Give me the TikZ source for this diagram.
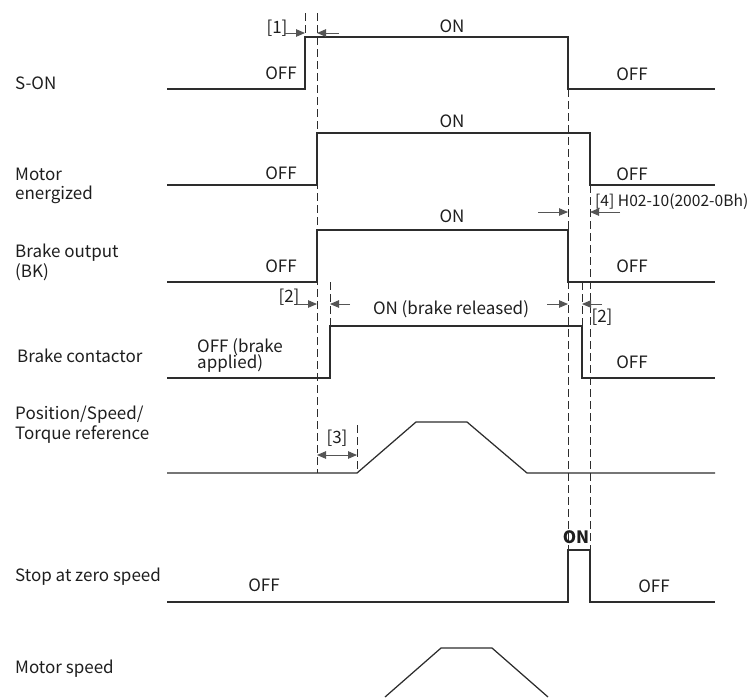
\documentclass[tikz,border=0pt]{standalone}
\usepackage{fontspec}
\setmainfont{Noto Sans CJK SC}
\definecolor{tdline}{RGB}{45,45,45}
\definecolor{tdtext}{RGB}{30,30,30}
\definecolor{tdgray}{RGB}{85,85,85}
\usetikzlibrary{arrows.meta,positioning}

\begin{document}
\begin{tikzpicture}[x=1pt,y=-1pt,
  wave/.style={line width=1.25pt, tdline},
  guide/.style={line width=1pt, tdline, dash pattern=on 8pt off 4pt},
  dimarrow/.style={line width=0.9pt, tdgray, -{Triangle[length=9pt,width=7.5pt]}},
  lbl/.style={font=\fontsize{17}{20}\selectfont, text=tdtext, inner sep=0pt},
  siglbl/.style={lbl, anchor=base west, align=left},
  statelbl/.style={lbl, anchor=base}]
  \useasboundingbox (0,0) rectangle (749,697);

  % signal names
  \node[siglbl] (nSon)   at (15,89)  {S-ON};
  \node[siglbl] (nMotor) at (15,199) {Motor\\[-1pt]energized};
  \node[siglbl] (nBk)    at (15,277) {Brake output\\(BK)};
  \node[siglbl] (nCont)  at (17,362) {Brake contactor};
  \node[siglbl] (nRef)   at (15,439) {Position/Speed/\\Torque reference};
  \node[siglbl] (nZero)  at (15,581) {Stop at zero speed};
  \node[siglbl] (nSpeed) at (15,673) {Motor speed};

  % waveforms
  \draw[wave] (167,89) -- (305,89) -- (305,37) -- (568,37) -- (568,89) -- (715,89);
  \draw[wave] (167,185) -- (317,185) -- (317,133) -- (590,133) -- (590,185) -- (715,185);
  \draw[wave] (167,282) -- (317,282) -- (317,230) -- (568,230) -- (568,282) -- (715,282);
  \draw[wave] (167,378) -- (330,378) -- (330,326) -- (582,326) -- (582,378) -- (715,378);
  \draw[wave] (167,473) -- (357,473) -- (416,422) -- (467,422) -- (527,473) -- (715,473);
  \draw[wave] (167,602) -- (568,602) -- (568,550) -- (590,550) -- (590,602) -- (715,602);
  \draw[wave] (385,697) -- (441,648) -- (492,648) -- (548,697);

  % timing guides
  \draw[guide] (305,13) -- (305,37);
  \draw[guide] (317,13) -- (317,473);
  \draw[guide] (330,282) -- (330,326);
  \draw[guide] (357,425) -- (357,473);
  \draw[guide] (568,89) -- (568,550);
  \draw[guide] (582,282) -- (582,326);
  \draw[guide] (590,185) -- (590,550);

  % states
  \node[statelbl] (sOffA) at (281,79)  {OFF};
  \node[statelbl] (sOn)   at (452,32)  {ON};
  \node[statelbl] (sOffB) at (632,80)  {OFF};
  \node[statelbl] (mOffA) at (281,179) {OFF};
  \node[statelbl] (mOn)   at (452,127) {ON};
  \node[statelbl] (mOffB) at (632,180) {OFF};
  \node[statelbl] (bOffA) at (281,272) {OFF};
  \node[statelbl] (bOn)   at (452,222) {ON};
  \node[statelbl] (bOffB) at (632,272) {OFF};
  \node[siglbl]   (cOffA) at (197,368) {OFF (brake\\[-4pt]applied)};
  \node[statelbl] (cOn)   at (451,314) {ON (brake released)};
  \node[statelbl] (cOffB) at (632,368) {OFF};
  \node[statelbl] (zOffA) at (264,591) {OFF};
  \node[statelbl, font=\fontsize{17}{20}\selectfont\bfseries] (zOn) at (576,543) {ON};
  \node[statelbl] (zOffB) at (654,592) {OFF};

  % delays
  \node[lbl] (d1)  at (277,28.5) {[1]};
  \node[lbl] (d2a) at (289,297)  {[2]};
  \node[lbl] (d2b) at (602,317)  {[2]};
  \node[lbl] (d3)  at (337,438)  {[3]};
  \node[lbl, anchor=west, font=\fontsize{15.6}{18}\selectfont] (d4) at (595,201.5) {[4] H02-10(2002-0Bh)};

  \coordinate (e1a) at (305,33);  \coordinate (e1b) at (317,33);
  \coordinate (e2a) at (317,304); \coordinate (e2b) at (330,304);
  \coordinate (e2c) at (568,304); \coordinate (e2d) at (582,304);
  \coordinate (e3a) at (317,455); \coordinate (e3b) at (357,455);
  \coordinate (e4a) at (568,212); \coordinate (e4b) at (590,212);
  \draw[dimarrow] (285,33) -- (e1a);
  \draw[dimarrow] (339,33) -- (e1b);
  \draw[dimarrow] (297,304) -- (e2a);
  \draw[dimarrow] (350,304) -- (e2b);
  \draw[dimarrow] (547,304) -- (e2c);
  \draw[dimarrow] (602,304) -- (e2d);
  \draw[dimarrow, {Triangle[length=9pt,width=7.5pt]}-{Triangle[length=9pt,width=7.5pt]}] (e3a) -- (e3b);
  \draw[dimarrow] (538,212) -- (e4a);
  \draw[dimarrow] (620,212) -- (e4b);
\end{tikzpicture}
\end{document}
